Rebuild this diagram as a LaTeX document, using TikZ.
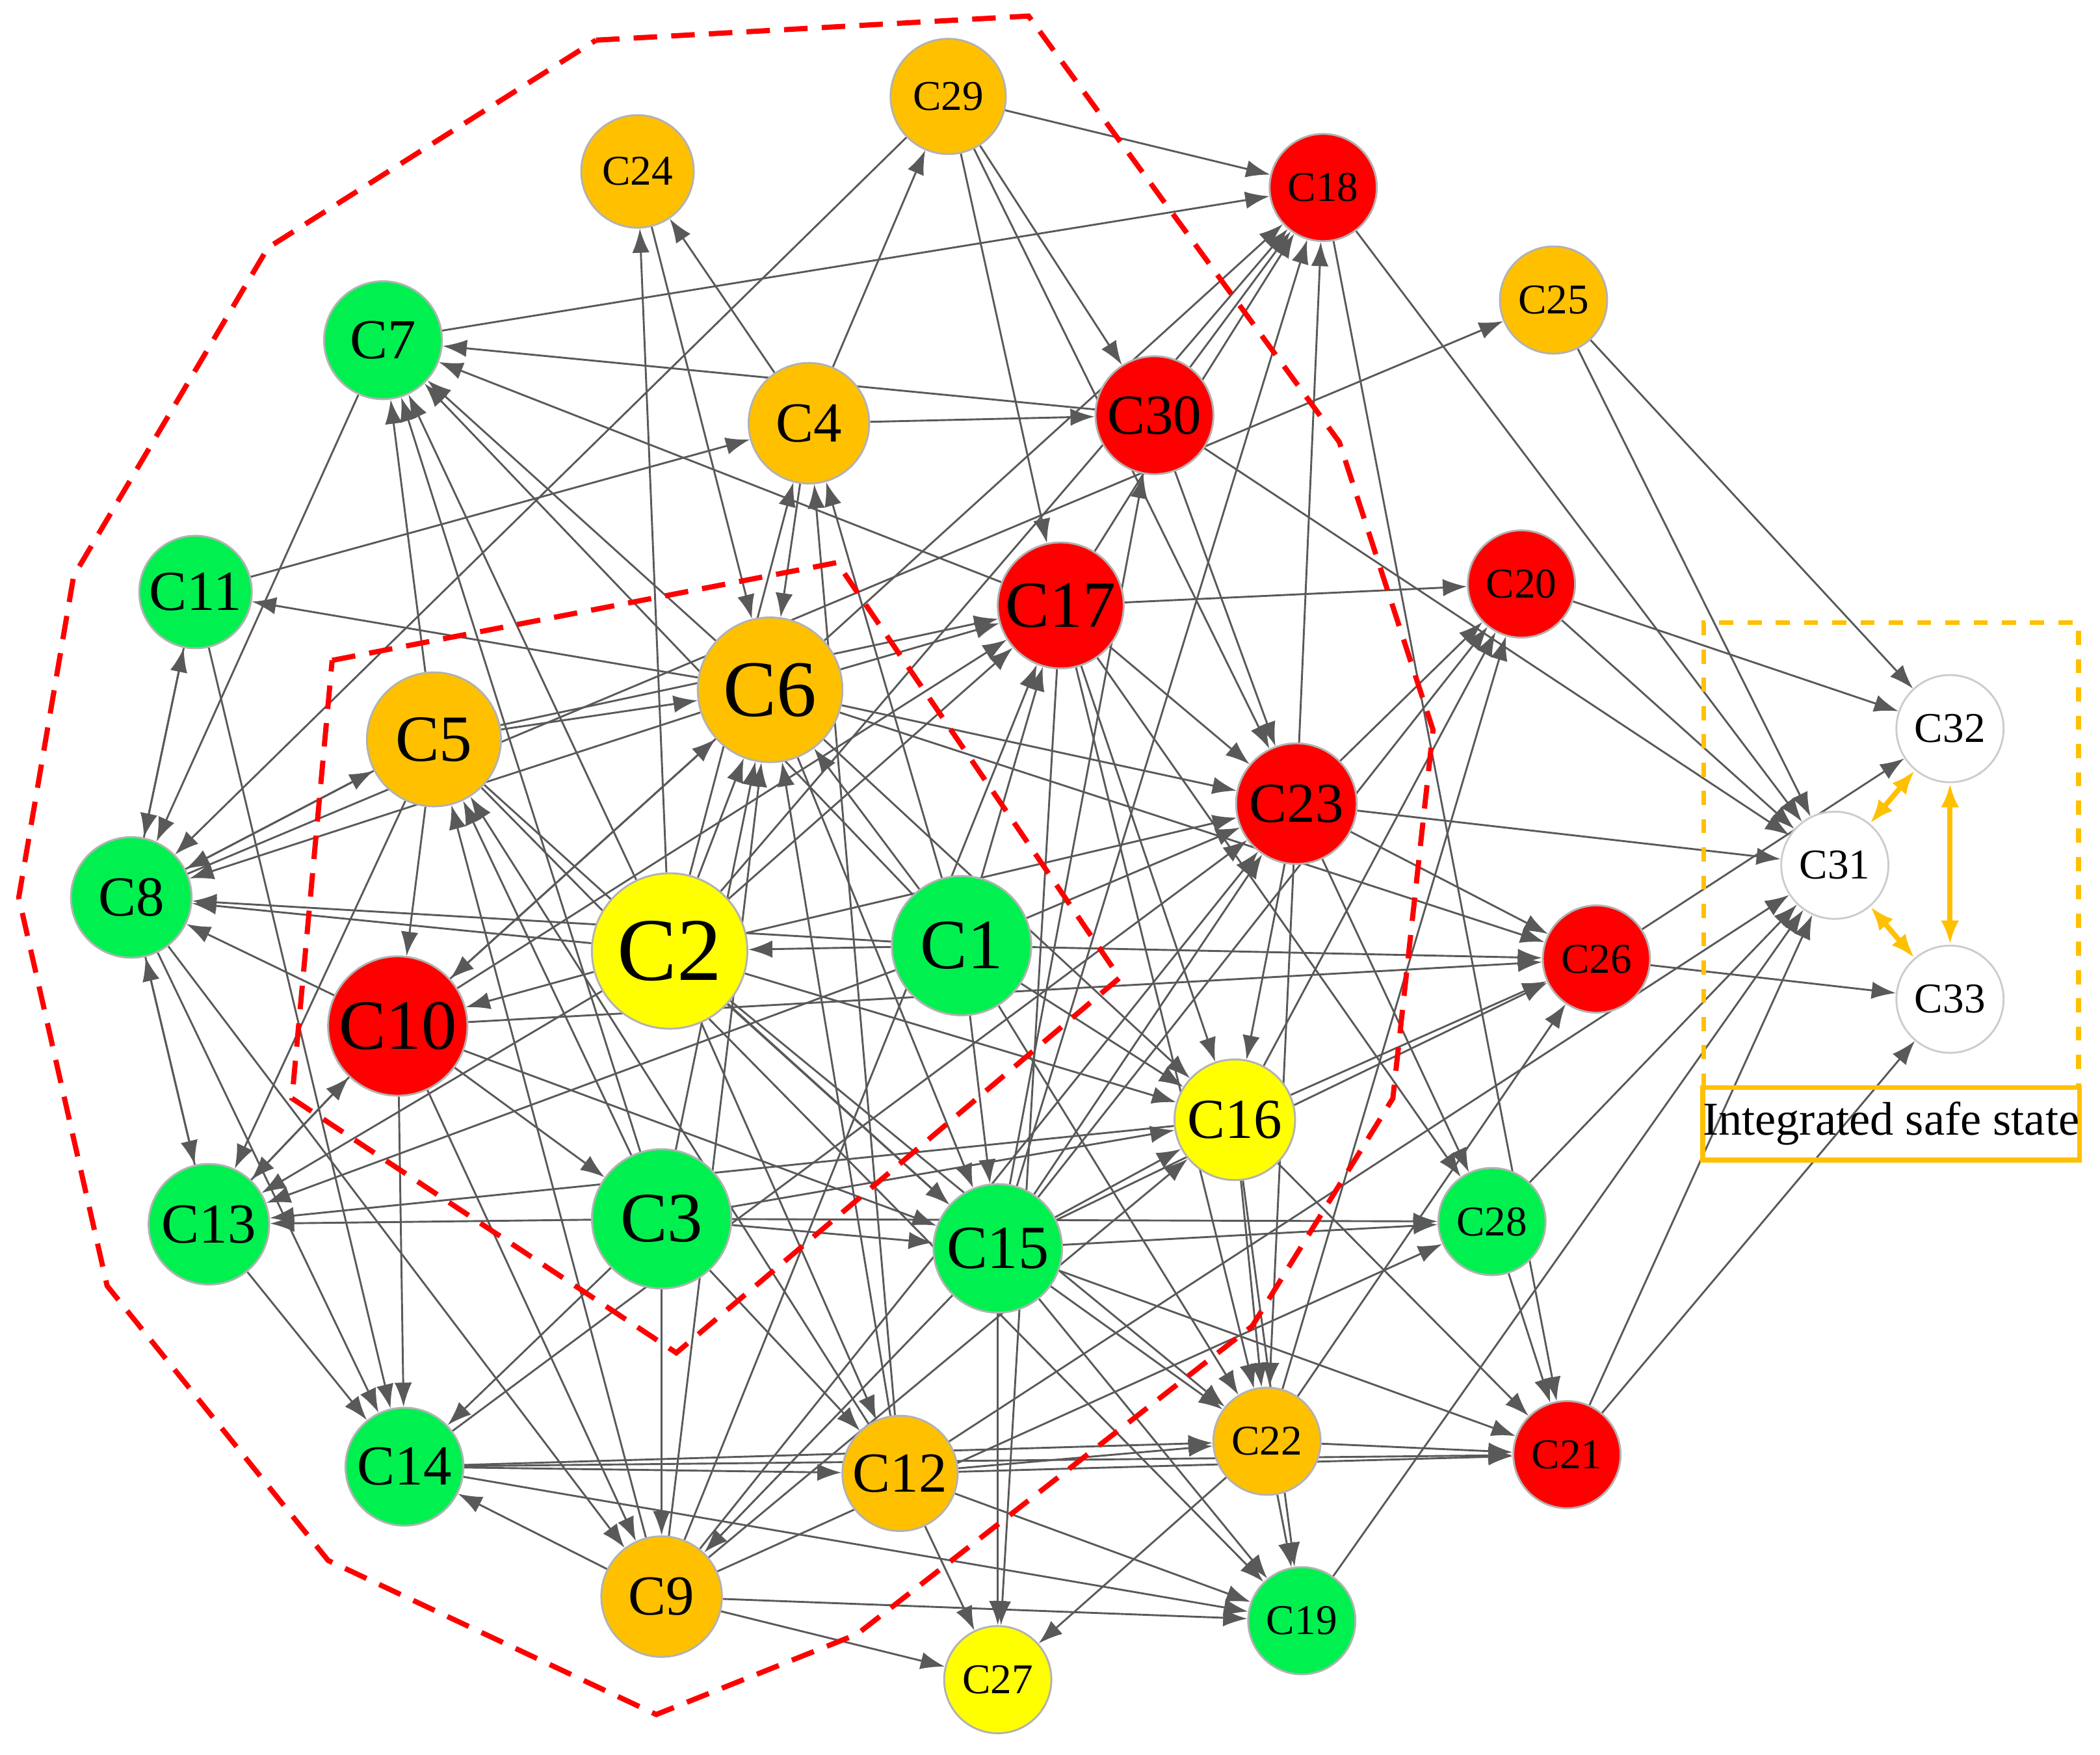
\documentclass[tikz,border=0pt]{standalone}
\usepackage{fontspec}
\setmainfont{Liberation Serif}
\usetikzlibrary{arrows.meta,backgrounds,positioning}
\definecolor{cgreen}{RGB}{0,240,80}
\definecolor{corange}{RGB}{255,192,0}
\definecolor{cred}{RGB}{255,0,0}
\definecolor{cyellow}{RGB}{255,255,0}
\tikzset{
c_node/.style={circle, draw=gray!60, inner sep=0pt, font=\fontsize{9}{11}\selectfont},
c_big/.style={c_node, font=\fontsize{15}{17}\selectfont},
c_mid/.style={c_node, font=\fontsize{12}{14}\selectfont},
c_safe/.style={c_node, fill=white, draw=gray!40, font=\fontsize{9}{11}\selectfont},
line_edge/.style={draw=gray!70!black, line width=0.4pt, -{Latex[length=1.8mm,width=1.3mm]}},
line_safe/.style={draw=corange, line width=1.1pt, {Latex[length=1.8mm]}-{Latex[length=1.8mm]}},
border_red/.style={draw=red, line width=1.1pt, dash pattern=on 5pt off 3pt}
}
\begin{document}
\begin{tikzpicture}[x=0.01cm,y=-0.01cm]
\useasboundingbox (0,0) rectangle (1568,1310);

%%% Bereiche %%%
\draw[border_red] (445,30) -- (768,12) -- (1000,330) -- (1070,545) -- (1040,820) -- (935,990)
  -- (640,1220) -- (490,1280) -- (245,1165) -- (80,960) -- (14,670) -- (55,430) -- (200,185) -- cycle;
\draw[border_red] (248,493) -- (625,420) -- (836,730) -- (505,1010) -- (218,820) -- cycle;
\draw[corange, dashed, line width=1pt] (1272,812) |- (1552,465) -- (1552,812);
\node[draw=corange, line width=1pt, minimum width=2.8cm, minimum height=0.54cm, inner sep=0pt,
  font=\fontsize{10}{12}\selectfont] (safe) at (1412,839) {Integrated safe state};

%%% Knoten %%%
\node[c_node, fill=corange, minimum size=0.86cm] (C29) at (708,72) {C29};
\node[c_node, fill=corange, minimum size=0.84cm] (C24) at (476,128) {C24};
\node[c_node, fill=cred, minimum size=0.80cm] (C18) at (988,140) {C18};
\node[c_node, fill=corange, minimum size=0.80cm] (C25) at (1160,224) {C25};
\node[c_mid, fill=cgreen, minimum size=0.88cm] (C7) at (286,254) {C7};
\node[c_mid, fill=corange, minimum size=0.90cm] (C4) at (604,316) {C4};
\node[c_mid, fill=cred, minimum size=0.88cm] (C30) at (862,310) {C30};
\node[c_mid, fill=cgreen, minimum size=0.84cm] (C11) at (146,442) {C11};
\node[c_mid, fill=cred, minimum size=0.94cm, font=\fontsize{14}{16}\selectfont] (C17) at (792,452) {C17};
\node[c_node, fill=cred, minimum size=0.80cm] (C20) at (1136,436) {C20};
\node[c_big, fill=corange, minimum size=1.08cm, font=\fontsize{17}{19}\selectfont] (C6) at (575,515) {C6};
\node[c_mid, fill=corange, minimum size=1.00cm, font=\fontsize{14}{16}\selectfont] (C5) at (324,552) {C5};
\node[c_mid, fill=cred, minimum size=0.90cm] (C23) at (968,600) {C23};
\node[c_mid, fill=cgreen, minimum size=0.90cm] (C8) at (98,670) {C8};
\node[c_big, fill=cyellow, minimum size=1.16cm, font=\fontsize{19}{21}\selectfont] (C2) at (500,710) {C2};
\node[c_big, fill=cgreen, minimum size=1.04cm] (C1) at (718,706) {C1};
\node[c_node, fill=cred, minimum size=0.80cm] (C26) at (1192,716) {C26};
\node[c_big, fill=cred, minimum size=1.04cm] (C10) at (297,766) {C10};
\node[c_mid, fill=cyellow, minimum size=0.90cm] (C16) at (922,836) {C16};
\node[c_mid, fill=cgreen, minimum size=0.90cm] (C13) at (156,914) {C13};
\node[c_big, fill=cgreen, minimum size=1.04cm] (C3) at (494,910) {C3};
\node[c_mid, fill=cgreen, minimum size=0.96cm, font=\fontsize{13}{15}\selectfont] (C15) at (745,932) {C15};
\node[c_node, fill=cgreen, minimum size=0.80cm] (C28) at (1114,912) {C28};
\node[c_mid, fill=cgreen, minimum size=0.88cm] (C14) at (302,1095) {C14};
\node[c_mid, fill=corange, minimum size=0.86cm] (C12) at (672,1100) {C12};
\node[c_node, fill=corange, minimum size=0.80cm] (C22) at (946,1076) {C22};
\node[c_node, fill=cred, minimum size=0.80cm] (C21) at (1170,1086) {C21};
\node[c_mid, fill=corange, minimum size=0.90cm] (C9) at (494,1192) {C9};
\node[c_node, fill=cgreen, minimum size=0.80cm] (C19) at (972,1210) {C19};
\node[c_node, fill=cyellow, minimum size=0.80cm] (C27) at (745,1254) {C27};
\node[c_safe, minimum size=0.80cm] (C32) at (1456,544) {C32};
\node[c_safe, minimum size=0.80cm] (C31) at (1370,646) {C31};
\node[c_safe, minimum size=0.80cm] (C33) at (1456,746) {C33};

%%Pfeile%%%
\begin{scope}[on background layer]
\foreach \a/\b in {C29/C18, C29/C30, C29/C17, C29/C23, C29/C8, C4/C29, C4/C24, C4/C30, C11/C4,
  C7/C18, C30/C7, C17/C7, C6/C7, C5/C7, C2/C7, C3/C7, C1/C7, C7/C8,
  C2/C24, C24/C6, C6/C18, C30/C18, C17/C18, C23/C18, C2/C18, C18/C31, C18/C21,
  C25/C32, C25/C31, C8/C25, C30/C31, C30/C23, C17/C20, C17/C23, C17/C16, C17/C22, C17/C28, C17/C27,
  C20/C31, C20/C32, C23/C20, C16/C20, C15/C20,
  C6/C17, C6/C23, C6/C16, C6/C15, C6/C10, C6/C8, C6/C11, C6/C26, C2/C6, C5/C6, C3/C6, C1/C6, C12/C6, C9/C6,
  C5/C8, C5/C10, C5/C13, C5/C15, C5/C17, C8/C5, C3/C5, C9/C5, C12/C5,
  C23/C31, C23/C26, C23/C16, C23/C22, C23/C28, C15/C23, C14/C23, C1/C23, C9/C23, C2/C23,
  C8/C11, C11/C8, C8/C13, C13/C8, C8/C9, C8/C14, C10/C8, C2/C8, C1/C8, C11/C14,
  C2/C10, C2/C17, C2/C15, C2/C16, C2/C22, C2/C12, C2/C13, C2/C4, C1/C2,
  C1/C15, C1/C16, C1/C4, C1/C22, C1/C17, C1/C26, C1/C13,
  C10/C6, C10/C3, C10/C9, C10/C14, C10/C13, C10/C15, C10/C17, C13/C10,
  C16/C26, C16/C21, C16/C22, C16/C19, C16/C13, C15/C16, C3/C16, C9/C16,
  C3/C13, C3/C9, C3/C15, C3/C14, C3/C12, C3/C28,
  C13/C14, C15/C27, C15/C19, C15/C22, C15/C28, C15/C21, C15/C30, C15/C18, C15/C26, C15/C9,
  C28/C31, C28/C21, C22/C20, C22/C26, C22/C19, C22/C27, C22/C21, C26/C32, C26/C33, C21/C33, C21/C31, C19/C31, C12/C31,
  C14/C21, C14/C12, C14/C22, C14/C19, C9/C14, C9/C27, C9/C19, C12/C27, C12/C19, C12/C22, C12/C21,
  C12/C4, C9/C28, C9/C17, C4/C6, C5/C19, C10/C26}
  \draw[line_edge] (\a) -- (\b);
\end{scope}
\draw[line_safe] (C31) -- (C32);
\draw[line_safe] (C31) -- (C33);
\draw[line_safe] (C32) -- (C33);

\end{tikzpicture}
\end{document}
